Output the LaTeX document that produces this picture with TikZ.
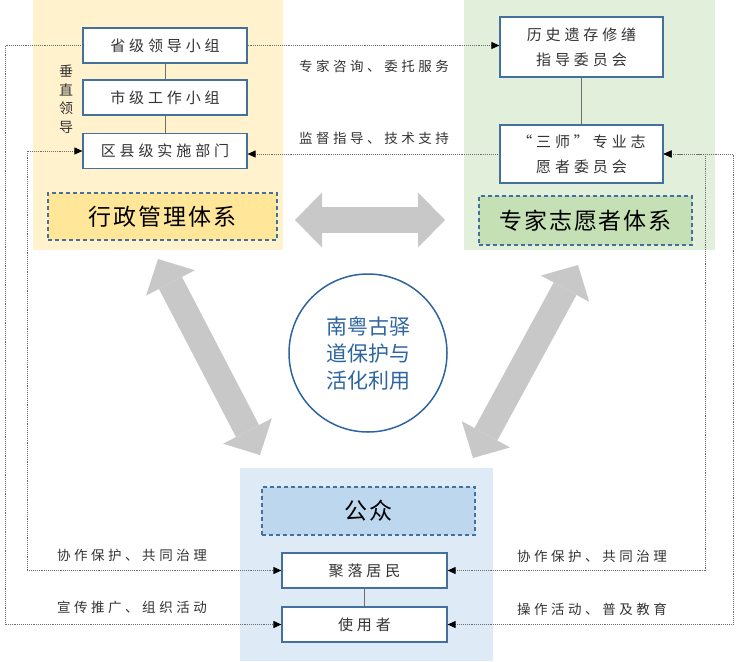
\documentclass[tikz,border=0pt]{standalone}
\usepackage{fontspec}
\setmainfont{Noto Sans CJK SC}
\newfontfamily\boxfont[LetterSpace=26]{Noto Sans CJK SC}
\newfontfamily\notefont[LetterSpace=26]{Noto Sans CJK SC}
\newfontfamily\titlefont[LetterSpace=8]{Noto Sans CJK SC}
\usetikzlibrary{arrows.meta,positioning}
\definecolor{panelyellow}{RGB}{255, 242, 204}
\definecolor{titleyellow}{RGB}{255, 230, 153}
\definecolor{panelgreen}{RGB}{226, 239, 218}
\definecolor{titlegreen}{RGB}{197, 224, 180}
\definecolor{panelblue}{RGB}{222, 235, 247}
\definecolor{titleblue}{RGB}{189, 215, 238}
\definecolor{boxblue}{RGB}{65, 113, 156}
\definecolor{circleblue}{RGB}{46, 101, 158}
\definecolor{arrowgray}{RGB}{200, 200, 200}
\definecolor{linegray}{RGB}{110, 110, 110}
\definecolor{darktext}{RGB}{51, 51, 51}
\tikzset{unitbox/.style={draw=boxblue,line width=1.2pt,fill=white,minimum width=164pt,minimum height=35pt,inner sep=0pt,align=center,text=darktext,font=\boxfont\fontsize{15}{25}\selectfont}}
\tikzset{titlebox/.style={draw=boxblue,line width=1.2pt,dash pattern=on 4pt off 3pt,minimum width=213pt,minimum height=48pt,inner sep=0pt,text=black,font=\titlefont\fontsize{23}{28}\selectfont}}
\tikzset{note/.style={inner sep=0pt,text=darktext,font=\notefont\fontsize{13.5}{16}\selectfont}}
\tikzset{dotlink/.style={draw=linegray,densely dotted,line width=0.9pt,>={Triangle[length=8pt,width=7pt,color=black]}}}
\tikzset{solidlink/.style={draw=linegray,line width=1pt}}
\tikzset{bigarrow/.style={draw=arrowgray,line width=26pt,>={Triangle[length=27pt,width=55pt,line width=0pt,fill=arrowgray]},<->}}

\begin{document}
\begin{tikzpicture}[x=1pt,y=-1pt]
	\useasboundingbox (0,0) rectangle (738,661);

	% panels
	\fill[panelyellow] (33,0) rectangle (283,250);
	\fill[panelgreen] (464,0) rectangle (715,250);
	\fill[panelblue] (240,468) rectangle (493,661);

	% big arrows
	\coordinate (ha) at (295,220);
	\coordinate (hb) at (445,220);
	\coordinate (la) at (158,259);
	\coordinate (lb) at (260,455);
	\coordinate (ra) at (578,265);
	\coordinate (rb) at (473,458);
	\draw[bigarrow] (ha) -- (hb);
	\draw[bigarrow] (la) -- (lb);
	\draw[bigarrow] (ra) -- (rb);

	% administration
	\node[unitbox] (sheng) at (165,45.5) {省级领导小组};
	\node[unitbox] (shi) at (165,97.5) {市级工作小组};
	\node[unitbox] (qu) at (165,151) {区县级实施部门};
	\node[align=center,text=darktext,font=\fontsize{14}{18.5}\selectfont] (chuizhi) at (66,99) {垂\\直\\领\\导};
	\node[titlebox,fill=titleyellow,minimum width=229pt,minimum height=47pt] (xingzheng) at (162.5,216.5) {行政管理体系};

	% experts
	\node[unitbox,minimum width=163pt,minimum height=60pt] (lishi) at (581.5,47) {历史遗存修缮\\指导委员会};
	\node[unitbox,minimum width=163pt,minimum height=58pt] (sanshi) at (581.5,154) {“三师”专业志\\愿者委员会};
	\node[titlebox,fill=titlegreen,minimum height=49pt] (zhuanjia) at (585.5,220.5) {专家志愿者体系};

	% public
	\node[titlebox,fill=titleblue] (gongzhong) at (368.5,511) {公众};
	\node[unitbox,minimum width=165pt] (juluo) at (364.5,570.5) {聚落居民};
	\node[unitbox,minimum width=165pt] (shiyong) at (364.5,624.5) {使用者};

	\node[circle,draw=circleblue,line width=1.5pt,minimum size=158pt,align=center,text=circleblue,font=\fontsize{21}{27}\selectfont] (core) at (368,353) {南粤古驿\\道保护与\\活化利用};

	\draw[solidlink] (sheng) -- (shi);
	\draw[solidlink] (shi) -- (qu);
	\draw[solidlink] (lishi) -- (sanshi);
	\draw[solidlink] (juluo) -- (shiyong);

	% dotted links
	\coordinate (c1) at (5,45.5);
	\coordinate (c4) at (27,151);
	\coordinate (c5) at (705,154);
	\coordinate (c6) at (733,154);
	\draw[dotlink,->] (sheng.west) -- (c1) |- (shiyong.west);
	\draw[dotlink,->] (sheng.east) -- (sheng.east -| lishi.west);
	\draw[dotlink,->] (sanshi.west) -- (sanshi.west -| qu.east);
	\draw[dotlink,<->] (qu.west) -- (c4) |- (juluo.west);
	\draw[dotlink,<->] (juluo.east) -| (c5) -- (sanshi.east);
	\draw[dotlink,<->] (shiyong.east) -| (c6) -- (sanshi.east);

	\node[note] (lzixun) at (374,66) {专家咨询、委托服务};
	\node[note] (ljiandu) at (374,138) {监督指导、技术支持};
	\node[note] (lxiezuoa) at (132,555) {协作保护、共同治理};
	\node[note] (lxuanchuan) at (132,607) {宣传推广、组织活动};
	\node[note] (lxiezuob) at (592,556) {协作保护、共同治理};
	\node[note] (lcaozuo) at (592,609) {操作活动、普及教育};
\end{tikzpicture}
\end{document}
